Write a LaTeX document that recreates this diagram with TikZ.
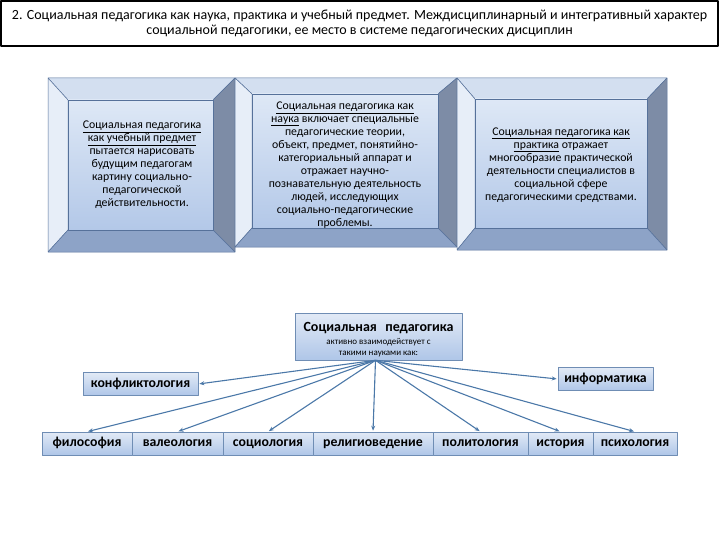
\documentclass[tikz,border=0pt]{standalone}
\usepackage{fontspec}
\setmainfont{Carlito}
\usepackage{xcolor}
\usetikzlibrary{arrows.meta,calc}

\definecolor{faceTop}{HTML}{DEE8F6}
\definecolor{faceBot}{HTML}{B3C8E8}
\definecolor{bevTop}{HTML}{D3DFF0}
\definecolor{bevLeft}{HTML}{E7EEF8}
\definecolor{bevRight}{HTML}{7D8CA6}
\definecolor{bevBot}{HTML}{8DA3C7}
\definecolor{bevEdge}{HTML}{56719A}
\definecolor{cellTop}{HTML}{E2EAF6}
\definecolor{cellBot}{HTML}{AFC6E8}
\definecolor{cellEdge}{HTML}{6F8DB4}
\definecolor{linkCol}{HTML}{4B78A8}

\begin{document}
\begin{tikzpicture}[x=1pt, y=-1pt, >=Stealth, line join=round,
  bevel/.style={draw=bevEdge, line width=0.5pt},
  bevtext/.style={align=center, font=\fontsize{11.8}{13}\selectfont, inner sep=0pt},
  sci/.style={draw=cellEdge, line width=0.6pt, top color=cellTop, bottom color=cellBot,
    font=\bfseries\fontsize{13.8}{15}\selectfont, inner sep=0pt, minimum height=23,
    text height=9.5pt, text depth=3pt},
  link/.style={->, draw=linkCol, line width=1.1pt, shorten >=1pt,
    arrows={-Stealth[length=5pt,width=4pt]}}]
  \useasboundingbox (0,0) rectangle (720,540);

  % header
  \node[draw=black, line width=1.2pt, minimum width=717, minimum height=45, inner sep=0pt,
    align=center, font=\fontsize{14}{15.5}\selectfont] (title) at (359.5,23.5)
    {2. Социальная педагогика как наука, практика и учебный предмет. Междисциплинарный и интегративный характер\\
     социальной педагогики, ее место в системе педагогических дисциплин};

  % three bevelled panels
  \foreach \X/\Y/\XX/\YY/\xa/\ya/\xb/\yb in {48/78/235/252/68/100/213/230,
      235/78/457/247/252/94/438/228, 457/78/667/250/475/99/647/228}{
    \filldraw[bevel, fill=bevTop] (\X,\Y) -- (\XX,\Y) -- (\xb,\ya) -- (\xa,\ya) -- cycle;
    \filldraw[bevel, fill=bevLeft] (\X,\Y) -- (\xa,\ya) -- (\xa,\yb) -- (\X,\YY) -- cycle;
    \filldraw[bevel, fill=bevRight] (\XX,\Y) -- (\XX,\YY) -- (\xb,\yb) -- (\xb,\ya) -- cycle;
    \filldraw[bevel, fill=bevBot] (\X,\YY) -- (\XX,\YY) -- (\xb,\yb) -- (\xa,\yb) -- cycle;
    \shade[top color=faceTop, bottom color=faceBot] (\xa,\ya) rectangle (\xb,\yb);
    \draw[bevel] (\xa,\ya) rectangle (\xb,\yb);
  }

  \node[bevtext] (predmet) at (142,165)
    {\underline{Социальная педагогика}\\ \underline{как учебный предмет}\\ пытается нарисовать\\
     будущим педагогам\\ картину социально-\\ педагогической\\ действительности.};
  \node[bevtext] (nauka) at (345,165)
    {\underline{Социальная педагогика как}\\ \underline{наука} включает специальные\\
     педагогические теории,\\ объект, предмет, понятийно-\\ категориальный аппарат и\\
     отражает научно-\\ познавательную деятельность\\ людей, исследующих\\
     социально-педагогические\\ проблемы.};
  \node[bevtext] (praktika) at (561,165)
    {\underline{Социальная педагогика как}\\ \underline{практика} отражает\\
     многообразие практической\\ деятельности специалистов в\\ социальной сфере\\
     педагогическими средствами.};

  % central node
  \node[draw=cellEdge, line width=0.6pt, top color=cellTop, bottom color=cellBot,
    minimum width=167, minimum height=47, inner sep=0pt, align=center,
    font=\fontsize{9}{11}\selectfont] (soc) at (378.5,336.5)
    {\rule{0pt}{15pt}{\bfseries\fontsize{14}{15}\selectfont Социальная\hspace{0.6em}педагогика}\\[2pt]
     активно взаимодействует с\\ такими науками как:};

  % sciences
  \node[sci, minimum width=115] (konf) at (140.5,384) {конфликтология};
  \node[sci, minimum width=95] (inf) at (605.5,379) {информатика};
  \node[sci, minimum width=90] (fil) at (87,443.5) {философия};
  \node[sci, minimum width=91] (val) at (177.5,443.5) {валеология};
  \node[sci, minimum width=90] (sociol) at (268,443.5) {социология};
  \node[sci, minimum width=120] (rel) at (373,443.5) {религиоведение};
  \node[sci, minimum width=95] (pol) at (480.5,443.5) {политология};
  \node[sci, minimum width=65] (ist) at (560.5,443.5) {история};
  \node[sci, minimum width=84] (psy) at (635,443.5) {психология};

  \foreach \t in {konf.east, inf.west, fil.north, val.north, sociol.north,
      rel.north, pol.north, ist.north, psy.north}
    \draw[link] ($(soc.south)+(-3,0)$) -- (\t);
\end{tikzpicture}
\end{document}
